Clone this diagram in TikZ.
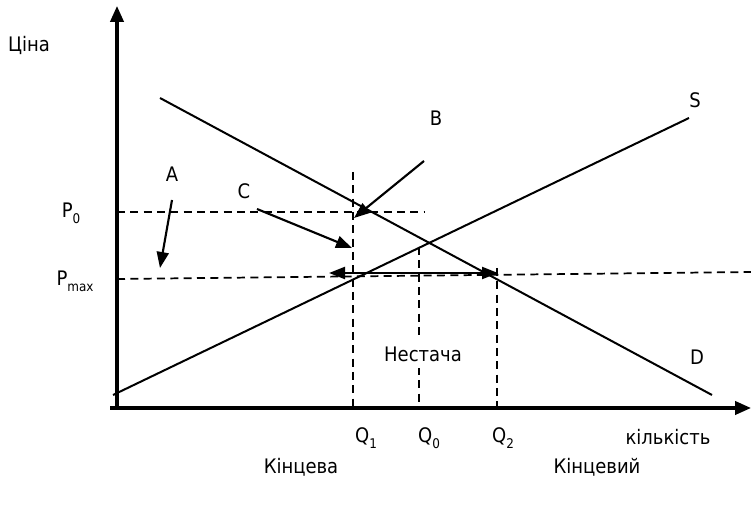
\documentclass[tikz,border=0pt]{standalone}
\usepackage{fontspec}
\setmainfont{DejaVu Sans Condensed}
\usetikzlibrary{arrows.meta}
\newcommand{\sbs}[1]{\raisebox{-4.5pt}{\fontsize{10}{10}\selectfont #1}}
\begin{document}
\begin{tikzpicture}[x=0.75pt,y=-0.75pt,
  lbl/.style={font=\fontsize{15}{18}\selectfont, inner sep=0pt},
  axis/.style={line width=2.3pt, -{Triangle[length=12pt,width=10pt]}},
  curve/.style={line width=1.5pt},
  guide/.style={line width=1.3pt, dash pattern=on 6pt off 4pt},
  pointer/.style={line width=1.6pt, -{Triangle[length=12pt,width=9pt]}},
  dpointer/.style={line width=1.6pt, {Triangle[length=12pt,width=9pt]}-{Triangle[length=12pt,width=9pt]}},
]
\useasboundingbox (0,0) rectangle (751,505);
% axes
\coordinate (ybot) at (117,409);
\coordinate (ytop) at (117,6);
\coordinate (xl) at (110,408);
\coordinate (xr) at (751,408);
\draw[axis] (ybot) -- (ytop);
\draw[axis] (xl) -- (xr);
% demand and supply
\coordinate (d1) at (160,98);
\coordinate (d2) at (712,395);
\coordinate (s1) at (113,395);
\coordinate (s2) at (689,118);
\draw[curve] (d1) -- (d2);
\draw[curve] (s1) -- (s2);
% guides
\coordinate (p0l) at (117,212);
\coordinate (p0r) at (425,212);
\coordinate (pml) at (117,279);
\coordinate (pmr) at (751,272);
\draw[guide] (p0l) -- (p0r);
\draw[guide] (pml) -- (pmr);
\coordinate (q1t) at (353,172);
\coordinate (q1b) at (353,408);
\coordinate (q0t) at (419,247);
\coordinate (q0b) at (419,408);
\coordinate (q2t) at (497,268);
\coordinate (q2b) at (497,408);
\draw[guide] (q1t) -- (q1b);
\draw[guide] (q0t) -- (q0b);
\draw[guide] (q2t) -- (q2b);
% pointer arrows
\coordinate (bs) at (424,161);
\coordinate (be) at (354,218);
\coordinate (cs) at (257,209);
\coordinate (ce) at (352,248);
\coordinate (as) at (172,200);
\coordinate (ae) at (160,268);
\coordinate (ll) at (329,273);
\coordinate (lr) at (498,273);
\draw[pointer] (bs) -- (be);
\draw[pointer] (cs) -- (ce);
\draw[pointer] (as) -- (ae);
\draw[dpointer] (ll) -- (lr);
% labels
\node[lbl] (cina) at (29,45) {Ціна};
\node[lbl] (P0) at (71,213) {P\sbs{0}};
\node[lbl] (Pm) at (75,281) {P\sbs{max}};
\node[lbl] (A) at (172,174) {A};
\node[lbl] (C) at (244,191) {C};
\node[lbl] (B) at (436,118) {B};
\node[lbl] (S) at (695,100) {S};
\node[lbl] (D) at (697,357) {D};
\node[lbl, fill=white, inner ysep=5pt, inner xsep=1pt] (short) at (423,354) {Нестача};
\node[lbl] (Q1) at (366,438) {Q\sbs{1}};
\node[lbl] (Q0) at (429,438) {Q\sbs{0}};
\node[lbl] (Q2) at (503,438) {Q\sbs{2}};
\node[lbl] (qty) at (668,437) {кількість};
\node[lbl] (k1) at (301,467) {Кінцева};
\node[lbl] (k2) at (597,467) {Кінцевий};
\end{tikzpicture}
\end{document}
